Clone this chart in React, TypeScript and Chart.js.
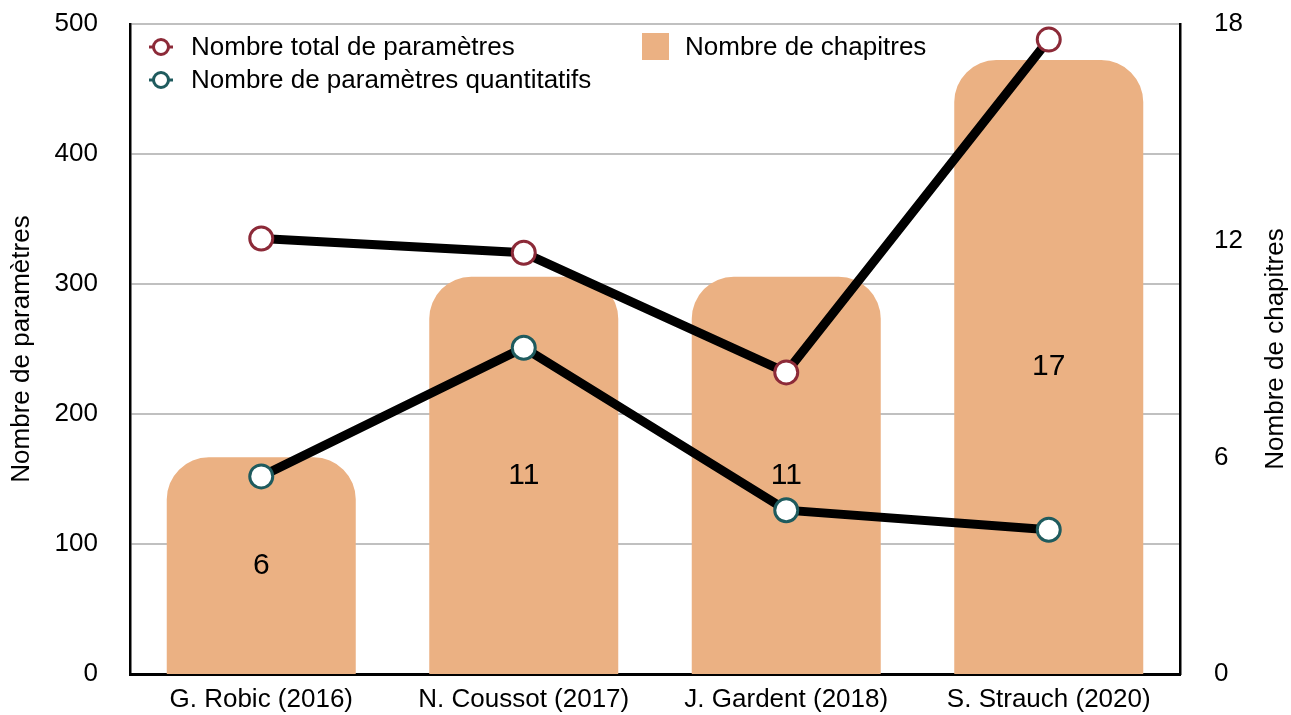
import React, { useEffect, useRef } from "react";
import { Chart, registerables } from "chart.js";

Chart.register(...registerables);

const categories = ["G. Robic (2016)", "N. Coussot (2017)", "J. Gardent (2018)", "S. Strauch (2020)"];
const totalParams = [335, 324, 232, 488];
const quantParams = [152, 251, 126, 111];
const chapters = [6, 11, 11, 17];
const leftMax = 500;
const leftStep = 100;
const rightMax = 18;
const rightStep = 6;

const FONT_FAMILY = "'Liberation Sans', Arial, Helvetica, sans-serif";
const FONT_SIZE = 26;
const BAR_COLOR = "#EBB183";
const RED = "#8C2A38";
const TEAL = "#1F5B5E";

const decorPlugin = {
  id: "decor",
  afterDatasetsDraw(chart: any) {
    const ctx = chart.ctx;
    const meta = chart.getDatasetMeta(0);
    ctx.save();
    ctx.font = `30px ${FONT_FAMILY}`;
    ctx.fillStyle = "#000";
    ctx.textAlign = "center";
    ctx.textBaseline = "middle";
    meta.data.forEach((bar: any, i: number) => {
      const y = (bar.y + bar.base) / 2;
      ctx.fillText(String(chapters[i]), bar.x, y);
    });
    ctx.restore();
  },
  afterDraw(chart: any) {
    const ctx = chart.ctx;
    const area = chart.chartArea;
    ctx.save();
    ctx.font = `${FONT_SIZE}px ${FONT_FAMILY}`;
    ctx.fillStyle = "#000";
    ctx.textBaseline = "middle";
    ctx.textAlign = "left";
    const items = [
      { label: "Nombre total de paramètres", color: RED, x: area.left + 19, y: area.top + 23 },
      { label: "Nombre de paramètres quantitatifs", color: TEAL, x: area.left + 19, y: area.top + 56 },
    ];
    items.forEach((it) => {
      ctx.strokeStyle = it.color;
      ctx.lineWidth = 3;
      ctx.beginPath();
      ctx.moveTo(it.x, it.y);
      ctx.lineTo(it.x + 24, it.y);
      ctx.stroke();
      ctx.beginPath();
      ctx.arc(it.x + 12, it.y, 7.5, 0, Math.PI * 2);
      ctx.fillStyle = "#fff";
      ctx.fill();
      ctx.stroke();
      ctx.fillStyle = "#000";
      ctx.fillText(it.label, it.x + 42, it.y + 1);
    });
    ctx.fillStyle = BAR_COLOR;
    ctx.fillRect(area.left + 512, area.top + 9, 27, 27);
    ctx.fillStyle = "#000";
    ctx.fillText("Nombre de chapitres", area.left + 555, area.top + 24);
    ctx.translate(chart.width - 15, (area.top + area.bottom) / 2);
    ctx.rotate(-Math.PI / 2);
    ctx.textAlign = "center";
    ctx.fillText("Nombre de chapitres", 0, 0);
    ctx.restore();
  },
};

export default function App() {
  const ref = useRef<HTMLCanvasElement | null>(null);

  useEffect(() => {
    if (!ref.current) return;
    const font = { family: FONT_FAMILY, size: FONT_SIZE };
    const chart = new Chart(ref.current, {
      type: "bar",
      data: {
        labels: categories,
        datasets: [
          {
            type: "bar",
            label: "Nombre de chapitres",
            data: chapters,
            yAxisID: "y1",
            backgroundColor: BAR_COLOR,
            borderWidth: 0,
            borderRadius: { topLeft: 42, topRight: 42, bottomLeft: 0, bottomRight: 0 },
            borderSkipped: "bottom",
            categoryPercentage: 0.8,
            barPercentage: 0.9,
            order: 2,
          } as any,
          {
            type: "line",
            label: "Nombre total de paramètres",
            data: totalParams,
            yAxisID: "y",
            borderColor: "#000",
            borderWidth: 9,
            pointRadius: 11.5,
            pointBorderWidth: 3,
            pointBackgroundColor: "#fff",
            pointBorderColor: RED,
            tension: 0,
            order: 1,
          } as any,
          {
            type: "line",
            label: "Nombre de paramètres quantitatifs",
            data: quantParams,
            yAxisID: "y",
            borderColor: "#000",
            borderWidth: 9,
            pointRadius: 11.5,
            pointBorderWidth: 3,
            pointBackgroundColor: "#fff",
            pointBorderColor: TEAL,
            tension: 0,
            order: 1,
          } as any,
        ],
      },
      options: {
        responsive: false,
        animation: false,
        devicePixelRatio: 1,
        layout: { padding: { top: 24, right: 0, left: 0, bottom: 0 } },
        plugins: {
          legend: { display: false },
          tooltip: { enabled: false },
        },
        scales: {
          x: {
            grid: { display: false, drawTicks: false },
            border: { display: true, color: "#000", width: 3 },
            ticks: { color: "#000", font, padding: 10, maxRotation: 0 },
            afterFit: (s: any) => {
              s.height = 41;
              s.paddingLeft = 0;
              s.paddingRight = 0;
            },
          },
          y: {
            position: "left",
            min: 0,
            max: leftMax,
            grid: { color: "#C0C0C0", lineWidth: 2, drawTicks: false },
            border: { display: true, color: "#000", width: 2.5 },
            ticks: { stepSize: leftStep, color: "#000", font, padding: 32 },
            title: {
              display: true,
              text: "Nombre de paramètres",
              color: "#000",
              font,
              padding: { top: 6, bottom: 0 },
            },
            afterFit: (s: any) => {
              s.width = 130;
              s.paddingTop = 0;
              s.paddingBottom = 0;
            },
          },
          y1: {
            position: "right",
            min: 0,
            max: rightMax,
            grid: { display: false, drawTicks: false },
            border: { display: true, color: "#000", width: 2.5 },
            ticks: { stepSize: rightStep, color: "#000", font, padding: 34 },
            afterFit: (s: any) => {
              s.width = 111;
              s.paddingTop = 0;
              s.paddingBottom = 0;
            },
          },
        },
      } as any,
      plugins: [decorPlugin],
    });
    return () => chart.destroy();
  }, []);

  return (
    <div style={{ position: "absolute", left: 0, top: 0, width: 1291, height: 715, background: "#fff" }}>
      <canvas ref={ref} width={1291} height={715} style={{ display: "block" }} />
    </div>
  );
}
